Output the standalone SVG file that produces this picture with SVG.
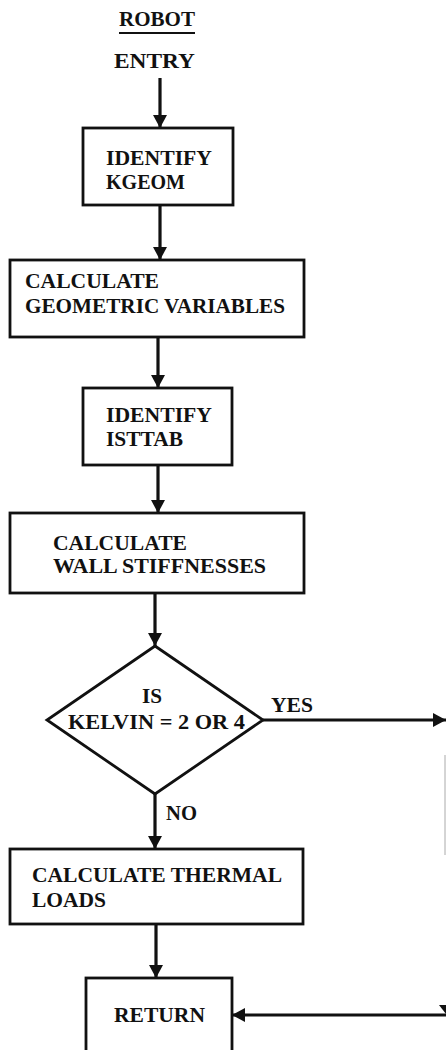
<svg xmlns="http://www.w3.org/2000/svg" width="446" height="1050" viewBox="0 0 446 1050">
<style>
  .box { fill: #fff; stroke: #111; stroke-width: 2.8; }
  .t { font-family: "Liberation Serif", "Times New Roman", serif; font-size: 22px; font-weight: bold; fill: #111; }
  .c { stroke: #111; stroke-width: 3.2; fill: none; }
</style>
<defs>
  <marker id="ah" markerUnits="userSpaceOnUse" markerWidth="14" markerHeight="14" refX="13" refY="7" orient="auto" viewBox="0 0 14 14">
    <path d="M0,0 L13,7 L0,14 Z" fill="#111"/>
  </marker>
</defs>
<rect width="446" height="1050" fill="#fff"/>

<g id="title">
  <text class="t" x="119" y="26" textLength="76" lengthAdjust="spacingAndGlyphs">ROBOT</text>
  <line x1="119" y1="33" x2="195" y2="33" stroke="#111" stroke-width="1.8"/>
</g>
<g id="entry">
  <text class="t" x="114" y="68" textLength="81" lengthAdjust="spacingAndGlyphs">ENTRY</text>
</g>

<g id="connectors">
  <line class="c" x1="160" y1="78" x2="160" y2="128" marker-end="url(#ah)"/>
  <line class="c" x1="160" y1="205" x2="160" y2="260" marker-end="url(#ah)"/>
  <line class="c" x1="158" y1="337" x2="158" y2="388" marker-end="url(#ah)"/>
  <line class="c" x1="158" y1="465" x2="158" y2="513" marker-end="url(#ah)"/>
  <line class="c" x1="155" y1="593" x2="155" y2="646" marker-end="url(#ah)"/>
  <line class="c" x1="263" y1="720" x2="446" y2="720" marker-end="url(#ah)"/>
  <line class="c" x1="155" y1="794" x2="155" y2="849" marker-end="url(#ah)"/>
  <line class="c" x1="156" y1="924" x2="156" y2="978" marker-end="url(#ah)"/>
  <line class="c" x1="446" y1="1015" x2="232" y2="1015" marker-end="url(#ah)"/>
  <path d="M439,1005 L446,1005 L446,1014 Z" fill="#111"/>
  <line x1="445" y1="755" x2="445" y2="855" stroke="#aaa" stroke-width="1"/>
  <text class="t" x="271" y="712" textLength="42" lengthAdjust="spacingAndGlyphs">YES</text>
  <text class="t" x="166" y="820" textLength="31" lengthAdjust="spacingAndGlyphs">NO</text>
</g>

<g id="identify_kgeom">
  <rect class="box" x="83" y="128" width="150" height="77"/>
  <text class="t" x="106" y="165" textLength="106" lengthAdjust="spacingAndGlyphs">IDENTIFY</text>
  <text class="t" x="106" y="189" textLength="79" lengthAdjust="spacingAndGlyphs">KGEOM</text>
</g>

<g id="calc_geometric">
  <rect class="box" x="10" y="260" width="294" height="77"/>
  <text class="t" x="25" y="288" textLength="134" lengthAdjust="spacingAndGlyphs">CALCULATE</text>
  <text class="t" x="25" y="313" textLength="260" lengthAdjust="spacingAndGlyphs">GEOMETRIC VARIABLES</text>
</g>

<g id="identify_isttab">
  <rect class="box" x="83" y="388" width="149" height="77"/>
  <text class="t" x="106" y="422" textLength="106" lengthAdjust="spacingAndGlyphs">IDENTIFY</text>
  <text class="t" x="106" y="446" textLength="77" lengthAdjust="spacingAndGlyphs">ISTTAB</text>
</g>

<g id="calc_wall">
  <rect class="box" x="10" y="513" width="294" height="80"/>
  <text class="t" x="53" y="550" textLength="134" lengthAdjust="spacingAndGlyphs">CALCULATE</text>
  <text class="t" x="53" y="573" textLength="213" lengthAdjust="spacingAndGlyphs">WALL STIFFNESSES</text>
</g>

<g id="decision_kelvin">
  <polygon class="box" points="155,646 263,720 155,794 47,720"/>
  <text class="t" x="142" y="703" textLength="20" lengthAdjust="spacingAndGlyphs">IS</text>
  <text class="t" x="68" y="729" textLength="177" lengthAdjust="spacingAndGlyphs">KELVIN = 2 OR 4</text>
</g>

<g id="calc_thermal">
  <rect class="box" x="10" y="849" width="293" height="75"/>
  <text class="t" x="32" y="882" textLength="250" lengthAdjust="spacingAndGlyphs">CALCULATE THERMAL</text>
  <text class="t" x="32" y="907" textLength="74" lengthAdjust="spacingAndGlyphs">LOADS</text>
</g>

<g id="return">
  <rect class="box" x="86" y="978" width="146" height="90"/>
  <text class="t" x="114" y="1022" textLength="91" lengthAdjust="spacingAndGlyphs">RETURN</text>
</g>
</svg>
